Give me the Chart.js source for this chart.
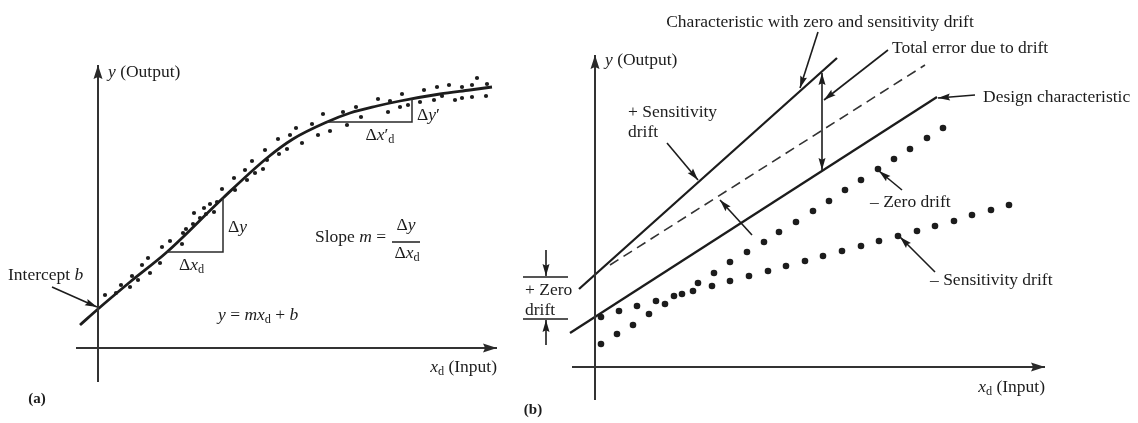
<!DOCTYPE html>
<html><head><meta charset="utf-8">
<script src="https://cdn.jsdelivr.net/npm/chart.js@4"></script>
<style>
html,body{margin:0;padding:0;background:#fff;width:1138px;height:423px;overflow:hidden}
#ca{position:absolute;left:0;top:0}
#cb{position:absolute;left:520px;top:0}
</style></head><body>
<canvas id="ca" width="520" height="423"></canvas>
<canvas id="cb" width="618" height="423"></canvas>
<script>
// ---------- Panel (a): calibration curve with scattered readings ----------
const aFitCurve = [[-1.8,2.3],[0,3.9],[3.2,6.6],[6.9,9.6],[12.5,15.0],[16.9,19.0],[19.5,20.9],[22.9,22.6],[25.2,23.5],[27.9,24.2],[30.2,24.7],[34.2,25.4],[37.2,25.8],[39.4,26.1]];
const aReadings = [[0.7,5.3],[1.8,5.5],[2.3,6.3],[3.2,6.1],[3.4,7.2],[4.0,6.8],[4.4,8.3],[5.2,7.5],[5.0,9.0],[6.2,8.5],[6.4,10.1],[7.2,10.7],[8.4,10.4],[8.5,11.5],[8.8,11.9],[9.5,12.4],[9.6,13.5],[10.2,13.0],[10.8,13.4],[10.6,14.0],[11.2,14.4],[11.6,13.6],[11.9,14.6],
 [12.4,15.9],[13.7,15.8],[13.6,17.0],[14.9,16.8],[14.7,17.8],[15.4,18.7],[15.7,17.5],[16.5,17.9],[16.9,18.8],[16.7,19.8],[18.0,20.9],[18.1,19.4],[18.9,19.9],[19.2,21.3],[19.8,22.0],[20.4,20.5],[21.4,22.4],[22.0,21.3],[22.5,23.4],[23.2,21.7],[24.5,23.6],[24.9,22.3],[25.8,24.1],[26.3,23.1],[28.0,24.9],[29.0,23.6],[29.2,24.7],[30.2,24.1],[30.4,25.4],[31.0,24.3],[32.2,24.6],[32.6,25.8],[33.6,24.8],[33.9,26.1],[34.4,25.2],[35.1,26.3],[35.7,24.8],[36.4,25.0],[36.4,26.1],[37.4,25.1],[37.4,26.3],[37.9,27.0],[38.8,25.2],[38.9,26.4]];
const aXAxis = [[-2.2,0],[39.9,0]];
const aYAxis = [[0,-3.4],[0,28.3]];
const aStepLow = [[6.9,9.6],[12.5,9.6],[12.5,15.0]];
const aStepHigh = [[22.9,22.6],[31.4,22.6],[31.4,24.9]];

// ---------- Panel (b): drift characteristics ----------
const bDesign = [[-2.5,3.4],[34.2,27.0]];
const bZeroAndSens = [[-1.6,7.8],[24.2,30.9]];
const bZeroOnly = [[1.5,10.2],[33.0,30.2]];
const bMinusZero = [[0.6,2.3],[2.2,3.3],[3.8,4.2],[5.4,5.3],[7.0,6.3],[8.7,7.3],[10.3,8.4],[11.9,9.4],[13.5,10.5],[15.2,11.5],[16.9,12.5],[18.4,13.5],[20.1,14.5],[21.8,15.6],[23.4,16.6],[25.0,17.7],[26.6,18.7],[28.3,19.8],[29.9,20.8],[31.5,21.8],[33.2,22.9],[34.8,23.9]];
const bMinusSens = [[0.6,5.0],[2.4,5.6],[4.2,6.1],[6.1,6.6],[7.9,7.1],[9.8,7.6],[11.7,8.1],[13.5,8.6],[15.4,9.1],[17.3,9.6],[19.1,10.1],[21.0,10.6],[22.8,11.1],[24.7,11.6],[26.6,12.1],[28.4,12.6],[30.3,13.1],[32.2,13.6],[34.0,14.1],[35.9,14.6],[37.7,15.2],[39.6,15.7],[41.4,16.2]];
const bXAxis = [[-2.3,0],[45.0,0]];
const bYAxis = [[0,-3.3],[0,31.2]];

const FONT = '"Liberation Serif","Times New Roman",serif';
const INK = '#1c1c1c';
const FS = 17.5;
const xy = arr => arr.map(([x,y]) => ({x, y}));

function drawHead(ctx, x1, y1, x2, y2, len, w, color) {
  const a = Math.atan2(y2 - y1, x2 - x1);
  ctx.save();
  ctx.fillStyle = color || INK;
  ctx.translate(x2, y2); ctx.rotate(a);
  ctx.beginPath(); ctx.moveTo(0, 0); ctx.lineTo(-len, -w/2); ctx.lineTo(-len*0.85, 0); ctx.lineTo(-len, w/2); ctx.closePath(); ctx.fill();
  ctx.restore();
}
function rich(ctx, x, y, segs, align, size, weight) {
  const parts = segs.map(s => {
    const t = s[0], st = s[1] || '';
    const sub = st.includes('s'), it = st.includes('i');
    const fs = sub ? size * 0.7 : size;
    const font = (it ? 'italic ' : '') + (weight || '') + ' ' + fs + 'px ' + FONT;
    ctx.font = font;
    return {t, font, w: ctx.measureText(t).width, dy: sub ? size * 0.3 : 0};
  });
  const total = parts.reduce((a, p) => a + p.w, 0);
  let cx = align === 'right' ? x - total : align === 'center' ? x - total / 2 : x;
  ctx.textBaseline = 'middle'; ctx.textAlign = 'left'; ctx.fillStyle = INK;
  for (const p of parts) { ctx.font = p.font; ctx.fillText(p.t, cx, y + p.dy); cx += p.w; }
}
const annot = {
  id: 'annot',
  afterDatasetsDraw(chart, args, o) {
    const {ctx} = chart, sx = chart.scales.x, sy = chart.scales.y;
    const P = ([a, b]) => [sx.getPixelForValue(a), sy.getPixelForValue(b)];
    ctx.save();
    for (const h of o.heads || []) {
      const n = h.line.length;
      const [x1, y1] = P(h.line[n-2]), [x2, y2] = P(h.line[n-1]);
      drawHead(ctx, x1, y1, x2, y2, 14, 9, '#2a2a2a');
    }
    for (const s of o.segments || []) {
      const [x1, y1] = P(s[0]), [x2, y2] = P(s[1]);
      ctx.strokeStyle = INK; ctx.lineWidth = 1.5;
      ctx.beginPath(); ctx.moveTo(x1, y1); ctx.lineTo(x2, y2); ctx.stroke();
    }
    for (const a of o.arrows || []) {
      const [x1, y1] = P(a.from), [x2, y2] = P(a.to);
      ctx.strokeStyle = INK; ctx.lineWidth = 1.6;
      ctx.beginPath(); ctx.moveTo(x1, y1); ctx.lineTo(x2, y2); ctx.stroke();
      drawHead(ctx, x1, y1, x2, y2, 12, 7);
      if (a.both) drawHead(ctx, x2, y2, x1, y1, 12, 7);
    }
    for (const l of o.labels || []) {
      const [px, py] = P(l.at);
      rich(ctx, px, py, l.segs, l.align, l.size || FS, l.weight);
    }
    ctx.restore();
  }
};
function baseOptions(xmin, xmax, ymin, ymax, ann) {
  return {
    responsive: false, animation: false,
    layout: {padding: 0, autoPadding: false},
    scales: {
      x: {type: 'linear', min: xmin, max: xmax, display: false, bounds: 'data'},
      y: {type: 'linear', min: ymin, max: ymax, display: false, bounds: 'data'}
    },
    plugins: {legend: {display: false}, tooltip: {enabled: false}, annot: ann}
  };
}
const lineDs = (pts, w, color, extra) => Object.assign({data: xy(pts), showLine: true, borderColor: color, borderWidth: w, pointRadius: 0, fill: false}, extra || {});
const dotDs = (pts, r) => ({data: xy(pts), showLine: false, pointRadius: r, pointBackgroundColor: INK, pointBorderWidth: 0, pointHoverRadius: r});

new Chart(document.getElementById('ca'), {
  type: 'scatter',
  data: {datasets: [
    lineDs(aXAxis, 2, '#333'),
    lineDs(aYAxis, 2, '#333'),
    lineDs(aStepLow, 1.5, '#2a2a2a'),
    lineDs(aStepHigh, 1.5, '#2a2a2a'),
    lineDs(aFitCurve, 2.8, INK, {cubicInterpolationMode: 'monotone'}),
    dotDs(aReadings, 2.1)
  ]},
  options: baseOptions(-9.8, 42.2, -7.5, 34.8, {
    heads: [{line: aXAxis}, {line: aYAxis}],
    segments: [[[29.4,10.6],[32.2,10.6]]],
    arrows: [{from: [-4.6,6.1], to: [-0.1,4.1]}],
    labels: [
      {at: [1.0,27.6], segs: [['y','i'],[' (Output)']], align: 'left'},
      {at: [39.9,-1.9], segs: [['x','i'],['d','s'],[' (Input)']], align: 'right'},
      {at: [-9.0,7.3], segs: [['Intercept '],['b','i']], align: 'left'},
      {at: [13.0,12.1], segs: [['Δ'],['y','i']], align: 'left'},
      {at: [9.35,8.3], segs: [['Δ'],['x','i'],['d','s']], align: 'center'},
      {at: [31.9,23.3], segs: [['Δ'],['y','i'],['′']], align: 'left'},
      {at: [28.2,21.3], segs: [['Δ'],['x','i'],['′'],['d','s']], align: 'center'},
      {at: [21.7,11.1], segs: [['Slope '],['m','i'],[' =']], align: 'left'},
      {at: [30.8,12.3], segs: [['Δ'],['y','i']], align: 'center'},
      {at: [30.9,9.5], segs: [['Δ'],['x','i'],['d','s']], align: 'center'},
      {at: [12.0,3.3], segs: [['y','i'],[' = '],['mx','i'],['d','s'],[' + '],['b','i']], align: 'left'},
      {at: [-6.1,-5.1], segs: [['(a)']], align: 'center', size: 15, weight: 'bold'}
    ]
  })
  ,
  plugins: [annot]
});

new Chart(document.getElementById('cb'), {
  type: 'scatter',
  data: {datasets: [
    lineDs(bXAxis, 2, '#333'),
    lineDs(bYAxis, 2, '#333'),
    lineDs(bDesign, 2.3, INK),
    lineDs(bZeroAndSens, 2.3, INK),
    lineDs(bZeroOnly, 1.6, '#333', {borderDash: [10, 6]}),
    dotDs(bMinusZero, 3.3),
    dotDs(bMinusSens, 3.3)
  ]},
  options: baseOptions(-7.5, 54.3, -5.6, 36.7, {
    heads: [{line: bXAxis}, {line: bYAxis}],
    segments: [[[-7.2,9.0],[-2.7,9.0]], [[-7.2,4.8],[-2.7,4.8]]],
    arrows: [
      {from: [-4.9,11.7], to: [-4.9,9.1]},
      {from: [-4.9,2.2], to: [-4.9,4.7]},
      {from: [22.7,19.7], to: [22.7,29.4], both: true},
      {from: [22.3,33.5], to: [20.5,27.9]},
      {from: [29.3,31.7], to: [22.9,26.7]},
      {from: [38.0,27.2], to: [34.3,26.9]},
      {from: [7.2,22.4], to: [10.3,18.7]},
      {from: [30.7,17.7], to: [28.4,19.6]},
      {from: [34.0,9.5], to: [30.5,13.0]},
      {from: [15.7,13.2], to: [12.5,16.7]}
    ],
    labels: [
      {at: [1.0,30.7], segs: [['y','i'],[' (Output)']], align: 'left'},
      {at: [45.0,-2.0], segs: [['x','i'],['d','s'],[' (Input)']], align: 'right'},
      {at: [22.5,34.5], segs: [['Characteristic with zero and sensitivity drift']], align: 'center'},
      {at: [29.7,31.9], segs: [['Total error due to drift']], align: 'left'},
      {at: [38.8,27.0], segs: [['Design characteristic']], align: 'left'},
      {at: [3.3,25.5], segs: [['+ Sensitivity']], align: 'left'},
      {at: [3.3,23.5], segs: [['drift']], align: 'left'},
      {at: [27.5,16.5], segs: [['– Zero drift']], align: 'left'},
      {at: [33.5,8.7], segs: [['– Sensitivity drift']], align: 'left'},
      {at: [-7.0,7.7], segs: [['+ Zero']], align: 'left'},
      {at: [-7.0,5.7], segs: [['drift']], align: 'left'},
      {at: [-6.2,-4.3], segs: [['(b)']], align: 'center', size: 15, weight: 'bold'}
    ]
  }),
  plugins: [annot]
});
</script>
</body></html>
